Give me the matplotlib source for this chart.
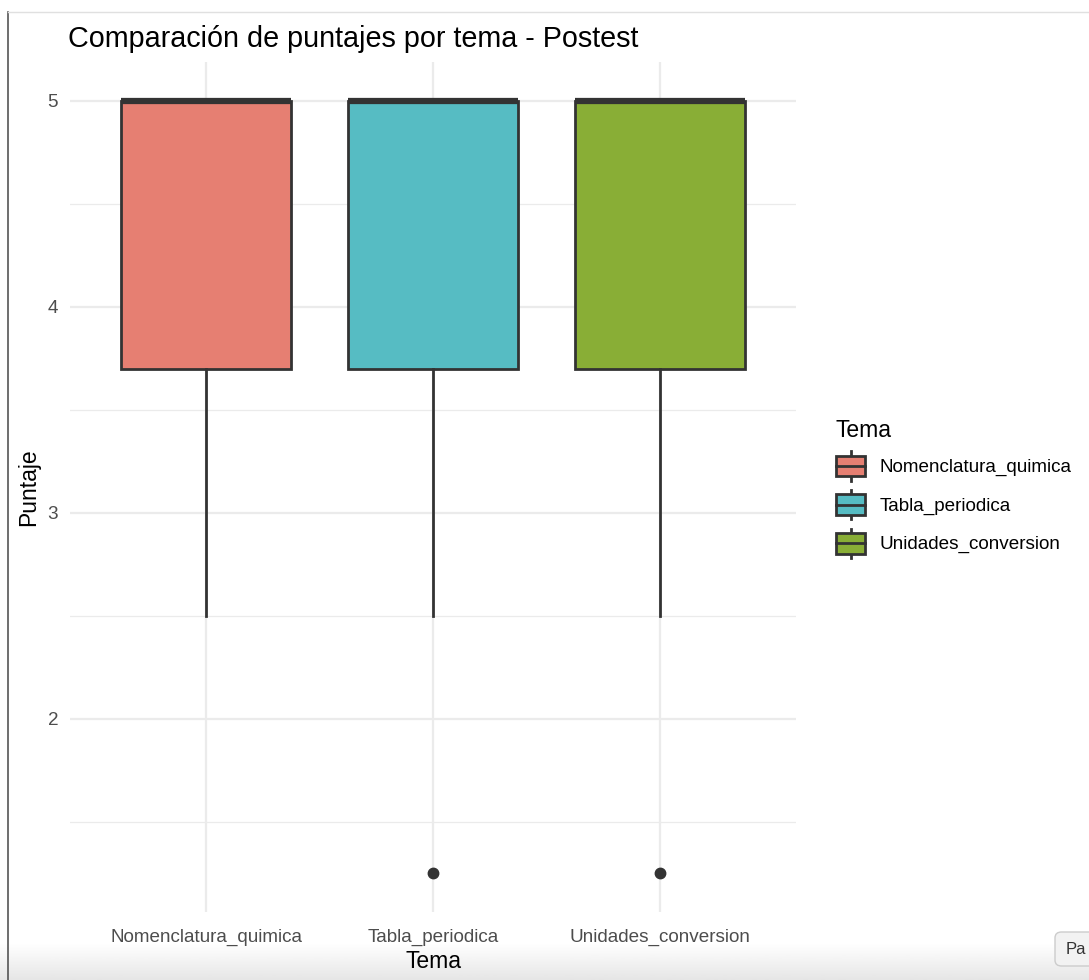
import matplotlib
matplotlib.use("Agg")
import numpy as np
import matplotlib.pyplot as plt
from matplotlib.patches import Rectangle, FancyBboxPatch
from matplotlib.lines import Line2D
from matplotlib.legend_handler import HandlerBase

plt.rcParams['font.family'] = ['Liberation Sans', 'DejaVu Sans']

# resumen de puntajes postest por tema
temas = ["Nomenclatura_quimica", "Tabla_periodica", "Unidades_conversion"]
q1 = [3.7, 3.7, 3.7]
mediana = [5.0, 5.0, 5.0]
q3 = [5.0, 5.0, 5.0]
bigote_inf = [2.5, 2.5, 2.5]
bigote_sup = [5.0, 5.0, 5.0]
atipicos = [[], [1.25], [1.25]]
colores = ["#E67F72", "#56BCC3", "#89AE36"]
borde = "#333333"


class HandlerCaja(HandlerBase):
    # icono de caja estilo ggplot: caja, mediana y bigotes
    def create_artists(self, legend, orig, xd, yd, width, height, fontsize, trans):
        c = orig.get_facecolor()
        x0, yb = -xd, -yd
        bh = height * 0.7
        y0 = yb + (height - bh) / 2
        caja = Rectangle((x0, y0), width, bh, facecolor=c, edgecolor=borde,
                         linewidth=2, transform=trans)
        xm = x0 + width / 2
        med = Line2D([x0, x0 + width], [yb + height / 2] * 2, color=borde,
                     linewidth=2, transform=trans)
        arriba = Line2D([xm, xm], [y0 + bh, yb + height], color=borde,
                        linewidth=2, transform=trans)
        abajo = Line2D([xm, xm], [y0, yb], color=borde,
                       linewidth=2, transform=trans)
        return [arriba, abajo, caja, med]


fig = plt.figure(figsize=(10.89, 9.8), dpi=100)

# sombra inferior de la ventana
fondo = fig.add_axes([0, 0, 1, 36 / 980], zorder=-5)
grad = np.linspace(0.9, 1.0, 50).reshape(-1, 1)
fondo.imshow(grad, cmap="gray", vmin=0, vmax=1, aspect="auto", origin="lower",
             extent=[0, 1, 0, 1])
fondo.set_axis_off()

ax = fig.add_axes([70 / 1089, 68 / 980, 726 / 1089, 850 / 980])
ax.patch.set_alpha(0)

stats = []
for i, t in enumerate(temas):
    stats.append(dict(label=t, q1=q1[i], med=mediana[i], q3=q3[i],
                      whislo=bigote_inf[i], whishi=bigote_sup[i], fliers=atipicos[i]))

pos = [1, 2, 3]
bp = ax.bxp(stats, positions=pos, widths=0.75, patch_artist=True, showcaps=False,
            boxprops=dict(edgecolor=borde, linewidth=2),
            whiskerprops=dict(color=borde, linewidth=2),
            medianprops=dict(color=borde, linewidth=4.5, solid_capstyle="butt"),
            flierprops=dict(marker="o", markerfacecolor=borde, markeredgecolor=borde,
                            markersize=7.5))
for patch, c in zip(bp["boxes"], colores):
    patch.set_facecolor(c)

ax.set_xlim(0.4, 3.6)
ax.set_ylim(1.0625, 5.1875)
ax.set_yticks([2, 3, 4, 5])
ax.set_yticks([1.5, 2.5, 3.5, 4.5], minor=True)
ax.set_xticks(pos)
ax.set_xticklabels(temas)
ax.grid(True, which="major", color="#EBEBEB", linewidth=1.6)
ax.grid(True, which="minor", axis="y", color="#EBEBEB", linewidth=0.9)
ax.set_axisbelow(True)
for s in ax.spines.values():
    s.set_visible(False)
ax.tick_params(which="both", length=0, labelsize=13.6, labelcolor="#4D4D4D")
ax.tick_params(axis="y", pad=8.5)
ax.tick_params(axis="x", pad=12)
ax.set_xlabel("Tema", fontsize=16.5, labelpad=3)
ax.set_ylabel("Puntaje", fontsize=16.5, labelpad=5)
ax.set_title("Comparación de puntajes por tema - Postest", fontsize=20.7, loc="left",
             x=-0.003, pad=11)

# leyenda
handles = []
for t, c in zip(temas, colores):
    handles.append(Rectangle((0, 0), 1, 1, facecolor=c, label=t))
leg = fig.legend(handles=handles, title="Tema", loc="upper left",
                 bbox_to_anchor=(819 / 1089, 1 - 402 / 980), frameon=False,
                 fontsize=13.6, title_fontsize=16.5, handlelength=1.55, handleheight=2.0,
                 labelspacing=0.5, handletextpad=0.75, alignment="left",
                 handler_map={Rectangle: HandlerCaja()})

# marco de la ventana
fig.add_artist(Line2D([8 / 1089, 8 / 1089], [0, 1 - 12 / 980], transform=fig.transFigure,
                      color="#555555", linewidth=1.2))
fig.add_artist(Line2D([8 / 1089, 1], [1 - 12 / 980, 1 - 12 / 980], transform=fig.transFigure,
                      color="#E0E0E0", linewidth=1))
boton = FancyBboxPatch((1055 / 1089, 14 / 980), 60 / 1089, 34 / 980,
                       boxstyle="round,pad=0,rounding_size=0.006", transform=fig.transFigure,
                       facecolor="#F2F2F2", edgecolor="#CCCCCC", linewidth=1)
fig.add_artist(boton)
fig.text(1066 / 1089, 31 / 980, "Pa", fontsize=12, va="center", ha="left", color="#333333")

fig.savefig("out.png", dpi=100)
